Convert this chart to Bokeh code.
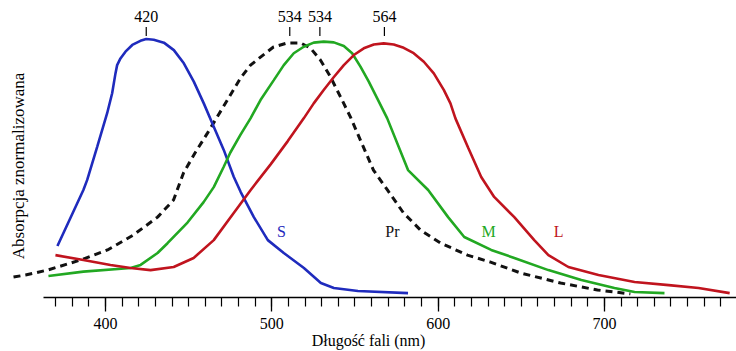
from bokeh.plotting import figure
from bokeh.models import FixedTicker, Label
from bokeh.core.properties import value
from bokeh.embed import file_html
from bokeh.resources import INLINE
import math

# --- data (wavelength nm, normalized absorbance) ---
s_nm = [371.1, 386.7, 389.0, 395.0, 401.0, 404.0, 406.0, 407.0, 409.0, 412.0, 416.1, 421.0,
        424.5, 429.0, 435.1, 441.1, 447.1, 453.1, 459.1, 465.1, 471.1, 477.1, 481.3, 489.2,
        497.6, 507.2, 519.3, 529.5, 537.3, 551.8, 581.9]
s_abs = [0.199, 0.416, 0.455, 0.583, 0.713, 0.790, 0.867, 0.899, 0.925, 0.951, 0.977, 0.993,
         1.000, 0.997, 0.986, 0.957, 0.906, 0.835, 0.751, 0.661, 0.571, 0.467, 0.408, 0.311,
         0.222, 0.172, 0.114, 0.056, 0.037, 0.025, 0.017]

m_nm = [365.7, 386.7, 415.1, 421.1, 431.3, 437.3, 449.3, 459.0, 465.1, 471.1, 475.0, 481.2,
        487.2, 493.2, 501.2, 507.2, 513.2, 519.2, 525.2, 531.2, 537.3, 543.3, 548.3, 553.3,
        558.3, 563.3, 569.4, 581.9, 594.0, 606.0, 615.7, 631.9, 645.8, 666.3, 686.1, 706.0,
        718.1, 736.1]
m_abs = [0.083, 0.100, 0.114, 0.126, 0.172, 0.210, 0.290, 0.369, 0.427, 0.506, 0.560, 0.630,
         0.693, 0.764, 0.841, 0.899, 0.945, 0.970, 0.986, 0.990, 0.987, 0.973, 0.945, 0.893,
         0.835, 0.771, 0.693, 0.493, 0.416, 0.311, 0.234, 0.184, 0.153, 0.106, 0.068, 0.037,
         0.021, 0.017]

l_nm = [369.9, 386.7, 403.0, 415.1, 427.1, 441.0, 453.0, 465.1, 477.1, 487.3, 499.4, 509.6,
        519.2, 525.2, 531.2, 537.2, 543.3, 549.3, 555.3, 561.3, 567.3, 573.3, 579.3, 585.3,
        591.4, 597.4, 603.4, 607.4, 610.4, 618.0, 625.9, 633.7, 645.8, 657.8, 666.3, 678.3,
        696.4, 718.1, 738.6, 756.6, 775.3]
l_abs = [0.164, 0.145, 0.126, 0.114, 0.106, 0.118, 0.153, 0.222, 0.327, 0.416, 0.516, 0.605,
         0.693, 0.751, 0.803, 0.852, 0.899, 0.938, 0.964, 0.979, 0.983, 0.979, 0.966, 0.945,
         0.912, 0.867, 0.803, 0.751, 0.693, 0.580, 0.466, 0.389, 0.311, 0.222, 0.164, 0.118,
         0.087, 0.060, 0.048, 0.037, 0.017]

pr_nm = [344.7, 351.9, 365.1, 385.0, 401.2, 416.8, 431.3, 440.9, 446.9, 453.9, 461.3, 467.3,
         473.3, 481.2, 487.2, 493.2, 501.0, 509.4, 517.2, 523.2, 529.2, 535.3, 541.3, 547.3,
         554.2, 561.1, 569.5, 579.2, 589.4, 601.4, 617.6, 631.5, 649.5, 673.6, 695.8, 715.6]
pr_abs = [0.079, 0.087, 0.106, 0.145, 0.184, 0.242, 0.311, 0.377, 0.482, 0.560, 0.636, 0.700,
          0.764, 0.849, 0.899, 0.930, 0.969, 0.985, 0.985, 0.965, 0.919, 0.853, 0.776, 0.698,
          0.595, 0.493, 0.416, 0.327, 0.261, 0.211, 0.164, 0.137, 0.095, 0.056, 0.029, 0.014]

peak_x = [424.5, 510.8, 528.9, 567.7]
peak_labels = ["420", "534", "534", "564"]

curve_names = ["S", "Pr", "M", "L"]
curve_label_x = [505.8, 572.5, 630.4, 672.5]

major_ticks = [400, 500, 600, 700]
minor_ticks = list(range(370, 780, 10))

BLUE = "#1f2bbd"
GREEN = "#22a822"
RED = "#c0141e"
BLACK = "#111111"
FONT = "Liberation Serif"

p = figure(width=736, height=351, output_backend="svg", toolbar_location=None,
           x_range=(336.87, 779.4), y_range=(0, 1.149), y_axis_location=None,
           min_border_left=0, min_border_right=0, min_border_top=0, min_border_bottom=54)
p.outline_line_color = None
p.xgrid.visible = False
p.ygrid.visible = False
p.background_fill_color = "white"
p.border_fill_color = "white"

p.line(pr_nm, pr_abs, line_color=BLACK, line_width=3, line_dash="7 5")
p.line(s_nm, s_abs, line_color=BLUE, line_width=2.6)
p.line(m_nm, m_abs, line_color=GREEN, line_width=2.6)
p.line(l_nm, l_abs, line_color=RED, line_width=2.6)

# peak markers
p.segment(x0=peak_x, y0=[1.012] * len(peak_x), x1=peak_x, y1=[1.046] * len(peak_x),
          line_color="black", line_width=1.2)
p.text(x=peak_x, y=[1.089] * len(peak_x), text=peak_labels, text_align="center",
       text_baseline="middle", text_font=value(FONT), text_font_size="16px", text_color="black")

# curve labels
p.text(x=curve_label_x, y=[0.255] * 4, text=curve_names, text_align="center",
       text_baseline="middle", text_font=value(FONT), text_font_size="16px",
       text_color=[BLUE, BLACK, GREEN, RED])

# y label
p.add_layout(Label(x=347.7, y=0.509, text="Absorpcja znormalizowana", angle=math.pi / 2,
                   text_align="center", text_baseline="middle", text_font=FONT,
                   text_font_size="17px", text_color="black"))

ax = p.xaxis[0]
ax.ticker = FixedTicker(ticks=major_ticks, minor_ticks=minor_ticks)
ax.bounds = (362.7, 779.4)
ax.axis_line_width = 1.5
ax.axis_line_color = "black"
ax.major_tick_out = 14
ax.major_tick_in = 0
ax.minor_tick_out = 9
ax.minor_tick_in = 0
ax.major_tick_line_width = 1.3
ax.minor_tick_line_width = 1.2
ax.major_tick_line_color = "black"
ax.minor_tick_line_color = "black"
ax.major_label_standoff = 6
ax.major_label_text_font = FONT
ax.major_label_text_font_size = "16px"
ax.major_label_text_line_height = 1.0
ax.major_label_text_color = "black"
ax.axis_label = "Długość fali (nm)"
ax.axis_label_standoff = 0
ax.axis_label_text_font = FONT
ax.axis_label_text_font_size = "16px"
ax.axis_label_text_line_height = 1.0
ax.axis_label_text_font_style = "normal"
ax.axis_label_text_color = "black"

open("out.html", "w").write(file_html(p, INLINE))
